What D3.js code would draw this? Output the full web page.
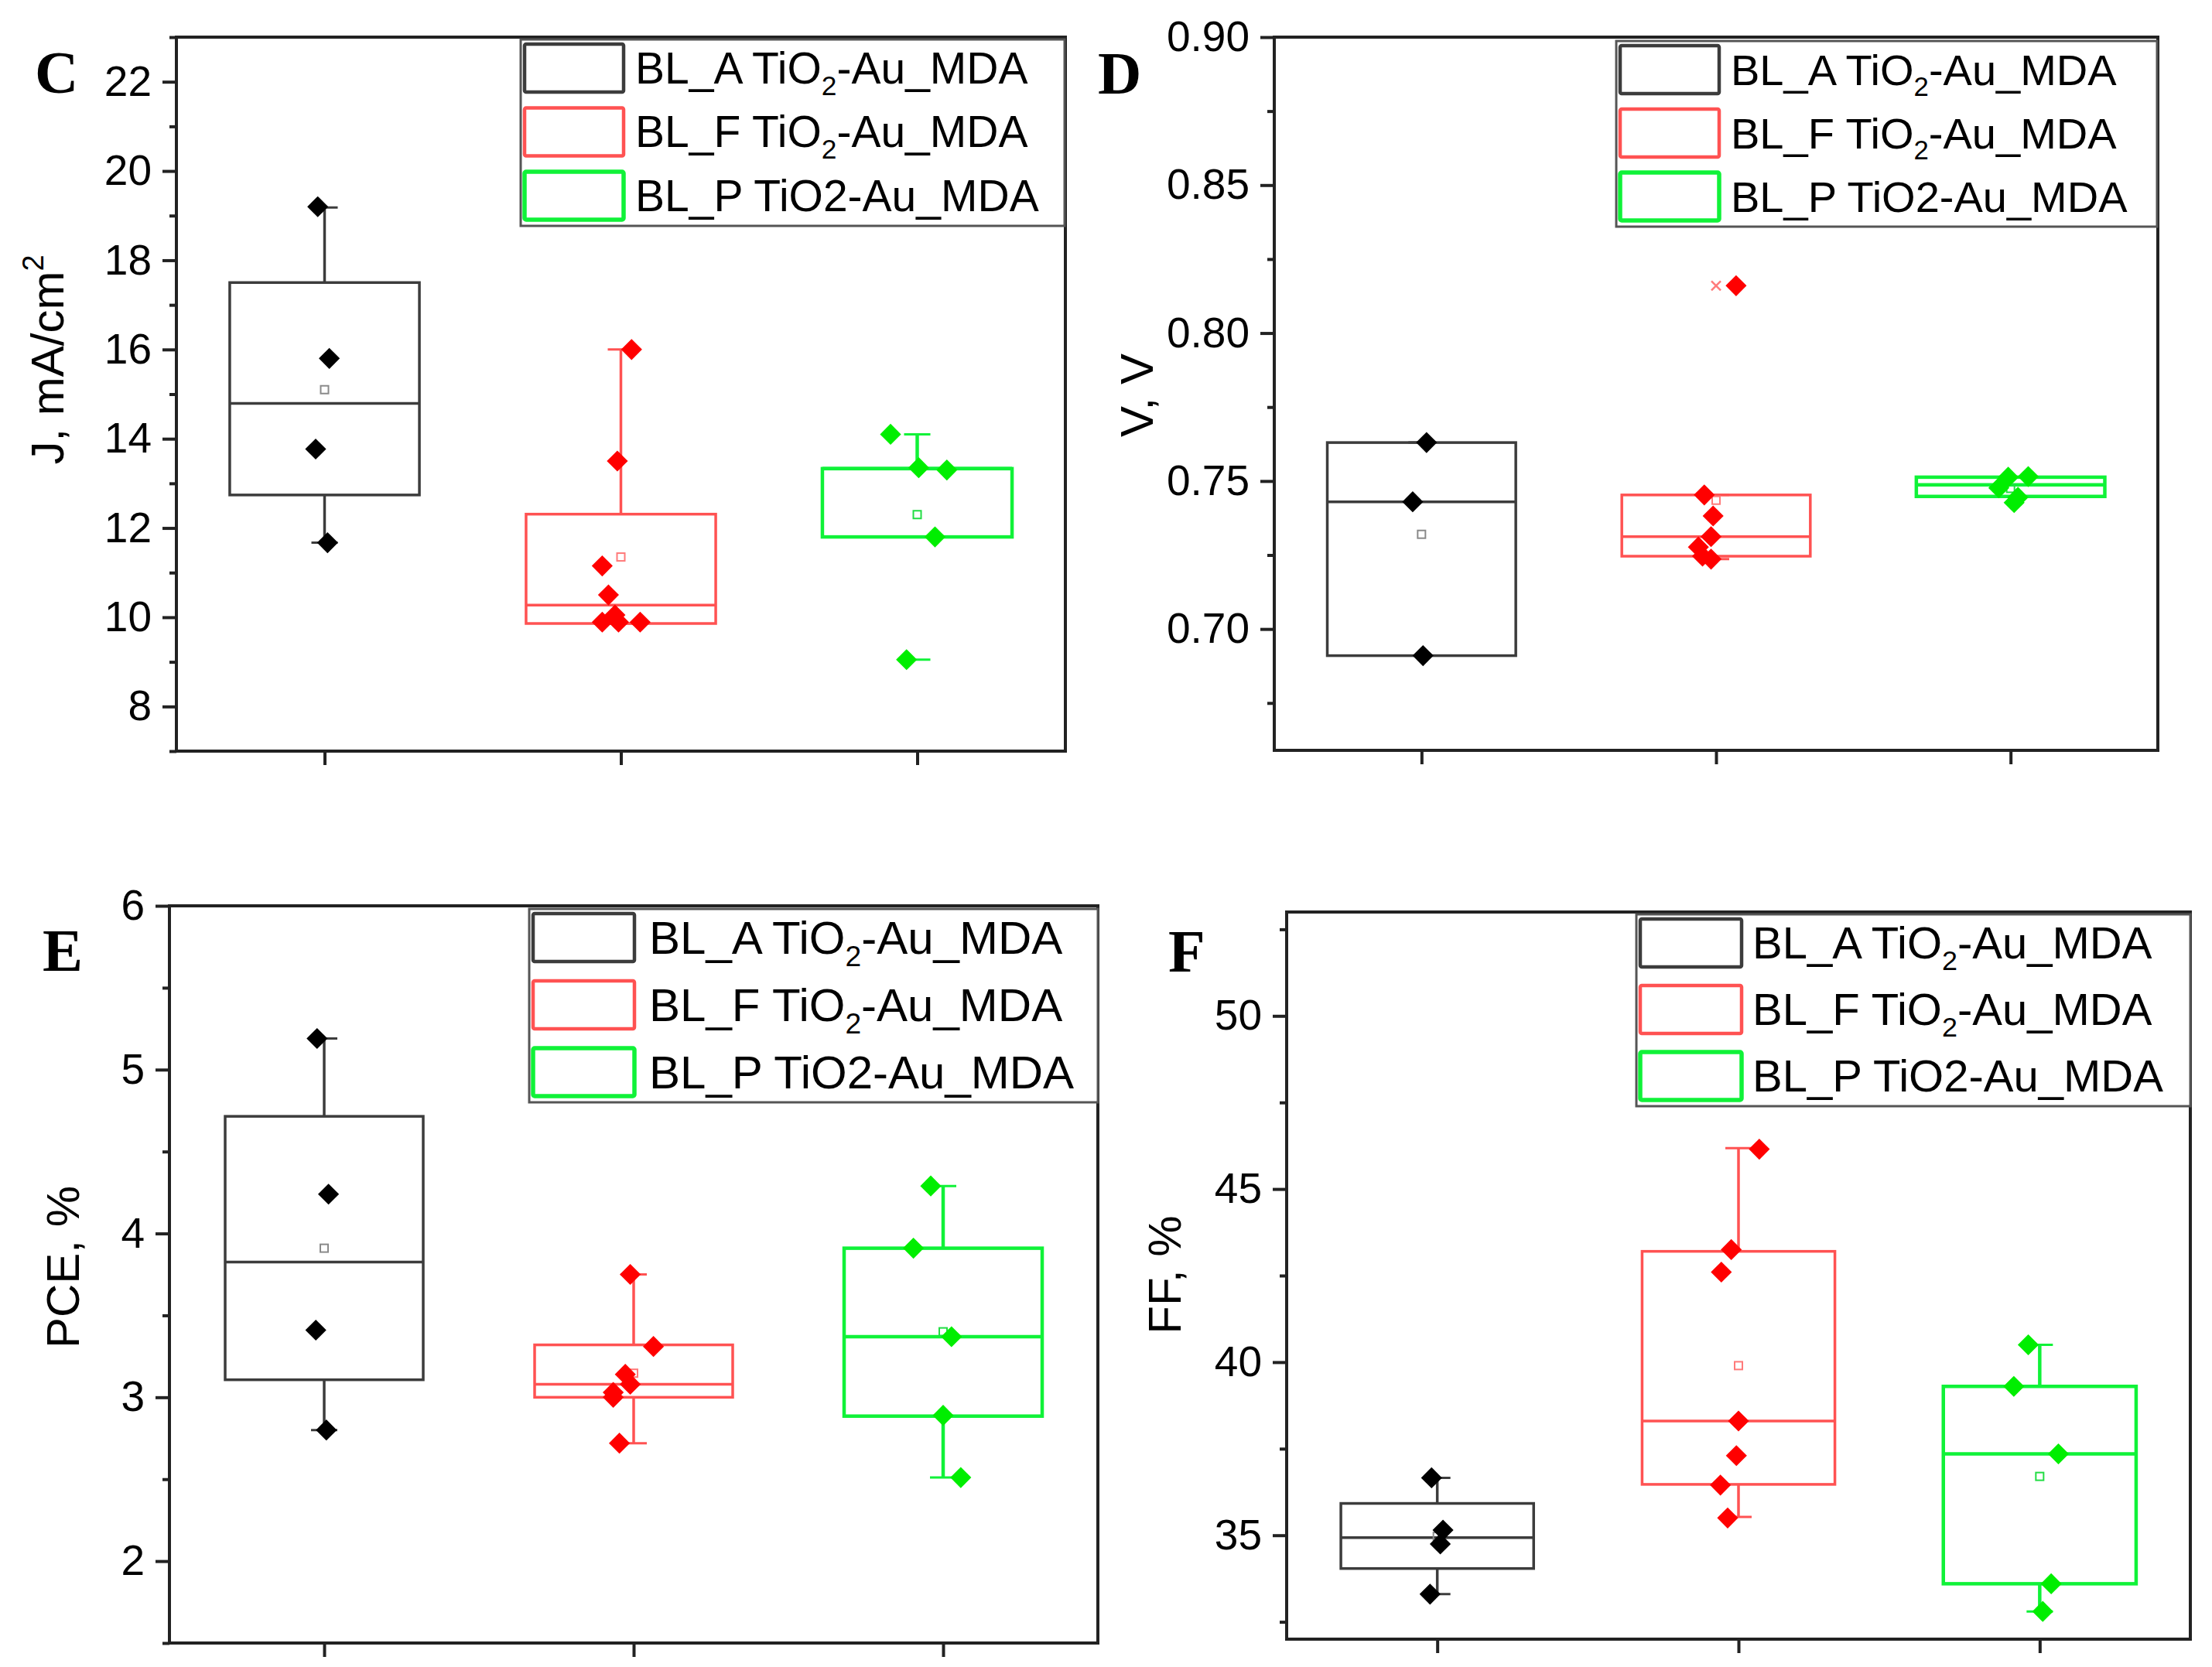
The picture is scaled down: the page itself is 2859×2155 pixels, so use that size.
<!DOCTYPE html>
<html>
<head>
<meta charset="utf-8">
<script src="https://cdn.jsdelivr.net/npm/d3@7"></script>
<style>
  body { margin: 0; background: #fff; }
  svg { display: block; }
  text { font-family: Arial, "Liberation Sans", sans-serif; fill: #000; }
</style>
</head>
<body>
<script>
const W = 2859, H = 2155;

// categories + legend text (middle part is the subscript)
const groups = ["BL_A", "BL_F", "BL_P"];
const legendParts = [["BL_A TiO", "2", "-Au_MDA"], ["BL_F TiO", "2", "-Au_MDA"], ["BL_P TiO2-Au_MDA"]];

// box stats per group: [q1, median, q3, whisker low, whisker high, mean]
// C: J, mA/cm2
const jPoints = [[19.2, 15.8, 13.77, 11.67], [16.0, 13.5, 11.15, 10.5, 10.05, 9.89, 9.89, 9.89], [14.1, 13.35, 13.3, 11.8, 9.05]];
const jJitter = [[-0.023, 0.016, -0.03, 0.01], [0.036, -0.012, -0.063, -0.042, -0.02, -0.063, -0.008, 0.065], [-0.09, 0.005, 0.1, 0.06, -0.036]];
const jStats = [[12.74, 14.79, 17.5, 11.67, 19.18, 15.1], [9.86, 10.27, 12.31, 9.86, 16.0, 11.35], [11.8, 13.33, 13.33, 11.8, 14.1, 12.3]];
const jOutliers = [[2, 9.05, "dash"]];
const jMajor = [8, 10, 12, 14, 16, 18, 20, 22];
const jMinor = [7, 9, 11, 13, 15, 17, 19, 21, 23];

// D: V, V
const vPoints = [[0.763, 0.743, 0.691], [0.816, 0.7453, 0.7382, 0.7312, 0.7277, 0.7246, 0.7236], [0.7513, 0.7515, 0.7477, 0.7445, 0.7427]];
const vJitter = [[0.017, -0.03, 0.005], [0.068, -0.04, -0.01, -0.017, -0.06, -0.046, -0.017], [-0.008, 0.06, -0.04, 0.025, 0.012]];
const vStats = [[0.691, 0.743, 0.763, 0.691, 0.763, 0.732], [0.7246, 0.7312, 0.7453, 0.7236, 0.7453, 0.7435], [0.7448, 0.7487, 0.7513, 0.7448, 0.7513, 0.7475]];
const vOutliers = [[1, 0.816, "x"]];
const vMajor = [0.70, 0.75, 0.80, 0.85, 0.90];
const vMinor = [0.675, 0.725, 0.775, 0.825, 0.875];

// E: PCE, %
const pcePoints = [[5.19, 4.24, 3.41, 2.8], [3.75, 3.31, 3.14, 3.08, 3.03, 3.0, 2.72], [4.29, 3.91, 3.37, 2.89, 2.51]];
const pceJitter = [[-0.023, 0.014, -0.027, 0.007], [-0.011, 0.064, -0.027, -0.011, -0.066, -0.066, -0.046], [-0.04, -0.096, 0.027, 0, 0.057]];
const pceStats = [[3.107, 3.825, 4.715, 2.8, 5.19, 3.91], [3.0, 3.08, 3.32, 2.72, 3.75, 3.147], [2.885, 3.37, 3.91, 2.51, 4.29, 3.40]];
const pceMajor = [2, 3, 4, 5, 6];
const pceMinor = [1.5, 2.5, 3.5, 4.5, 5.5];

// F: FF, %
const ffPoints = [[36.66, 35.15, 34.75, 33.3], [46.15, 43.25, 42.6, 38.3, 37.3, 36.45, 35.5], [40.5, 39.3, 37.35, 33.6, 32.8]];
const ffJitter = [[-0.019, 0.019, 0.01, -0.024], [0.069, -0.024, -0.057, 0, -0.007, -0.06, -0.036], [-0.038, -0.086, 0.062, 0.038, 0.01]];
const ffStats = [[34.04, 34.93, 35.92, 33.3, 36.66, 34.97], [36.47, 38.3, 43.2, 35.53, 46.18, 39.9], [33.6, 37.35, 39.3, 32.8, 40.5, 36.7]];
const ffMajor = [35, 40, 45, 50];
const ffMinor = [32.5, 37.5, 42.5, 47.5, 52.5];

// styles
const boxColors = ["#3c3c3c", "#ff5252", "#10f238"];
const boxWidths = [3.5, 3.5, 4.5];
const pointColors = ["#000000", "#ff0000", "#00ee00"];
const meanColors = ["#8a8a8a", "#ff7a7a", "#22dd44"];
const axisColor = "#222";

const svg = d3.select("body").append("svg")
  .attr("width", W).attr("height", H)
  .attr("viewBox", `0 0 ${W} ${H}`);
svg.append("rect").attr("width", W).attr("height", H).attr("fill", "#fff");

const panels = [
  { label: "C", labelPos: [45, 120], frame: [228, 48, 1377, 971], yDomain: [7, 23],
    points: jPoints, jitter: jJitter, stats: jStats, outliers: jOutliers,
    major: jMajor, minor: jMinor, fmt: d3.format("d"),
    title: ["J, mA/cm", "2"], titlePos: [82, 465],
    legend: { x: 673, y: 51, w: 703, h: 241, fs: 57, tx: 148, sw: 128 } },
  { label: "D", labelPos: [1419, 121], frame: [1647, 48, 2789, 970], yDomain: [0.659, 0.90],
    points: vPoints, jitter: vJitter, stats: vStats, outliers: vOutliers,
    major: vMajor, minor: vMinor, fmt: d3.format(".2f"),
    title: ["V, V"], titlePos: [1490, 511],
    legend: { x: 2089, y: 53, w: 699, h: 240, fs: 56, tx: 148, sw: 128 } },
  { label: "E", labelPos: [55, 1255], frame: [219, 1171, 1419, 2124], yDomain: [1.5, 6],
    points: pcePoints, jitter: pceJitter, stats: pceStats, outliers: [],
    major: pceMajor, minor: pceMinor, fmt: d3.format("d"),
    title: ["PCE, %"], titlePos: [102, 1638],
    legend: { x: 684, y: 1175, w: 735, h: 250, fs: 60, tx: 155, sw: 131 } },
  { label: "F", labelPos: [1510, 1256], frame: [1663, 1179, 2831, 2119], yDomain: [32, 53],
    points: ffPoints, jitter: ffJitter, stats: ffStats, outliers: [],
    major: ffMajor, minor: ffMinor, fmt: d3.format("d"),
    title: ["FF, %"], titlePos: [1526, 1648],
    legend: { x: 2115, y: 1182, w: 716, h: 248, fs: 58, tx: 150, sw: 131 } }
];

const diamond = d3.symbol().type(d3.symbolDiamond2 || d3.symbolSquare).size(470);

panels.forEach(drawPanel);

function drawPanel(p) {
  const [l, t, r, b] = p.frame;
  const g = svg.append("g");
  const x = d3.scaleLinear().domain([0.5, 3.5]).range([l, r]);
  const y = d3.scaleLinear().domain(p.yDomain).range([b, t]);
  const boxHalf = x(1.32) - x(1);
  const capHalf = 17;

  // y axis, major + minor ticks
  const yMajor = g.append("g").attr("transform", `translate(${l},0)`)
    .call(d3.axisLeft(y).tickValues(p.major).tickSize(18).tickPadding(14).tickFormat(p.fmt));
  const yMinor = g.append("g").attr("transform", `translate(${l},0)`)
    .call(d3.axisLeft(y).tickValues(p.minor).tickSize(9).tickFormat(""));
  const xAx = g.append("g").attr("transform", `translate(0,${b})`)
    .call(d3.axisBottom(x).tickValues([1, 2, 3]).tickSize(18).tickFormat(""));
  [yMajor, yMinor, xAx].forEach(a => {
    a.select(".domain").remove();
    a.selectAll("line").attr("stroke", axisColor).attr("stroke-width", 4);
  });
  yMajor.selectAll("text").attr("font-size", 55).attr("fill", "#000")
    .style("font-family", "Arial, 'Liberation Sans', sans-serif");

  // frame
  g.append("rect").attr("x", l).attr("y", t).attr("width", r - l).attr("height", b - t)
    .attr("fill", "none").attr("stroke", axisColor).attr("stroke-width", 4);

  // legend
  const lg = p.legend;
  const leg = g.append("g");
  leg.append("rect").attr("x", lg.x).attr("y", lg.y).attr("width", lg.w).attr("height", lg.h)
    .attr("fill", "#fff").attr("stroke", "#555").attr("stroke-width", 3);
  const pitch = (lg.h - 14 - 62) / 2;
  groups.forEach((gname, i) => {
    const ry = lg.y + 6 + i * pitch;
    leg.append("rect").attr("x", lg.x + 5).attr("y", ry).attr("width", lg.sw).attr("height", 62)
      .attr("rx", 2).attr("fill", "#fff").attr("stroke", boxColors[i]).attr("stroke-width", boxWidths[i] + 1);
    const txt = leg.append("text").attr("x", lg.x + lg.tx).attr("y", ry + 31 + lg.fs * 0.35)
      .attr("font-size", lg.fs);
    legendParts[i].forEach((part, k) => {
      const ts = txt.append("tspan").text(part);
      if (k === 1) ts.attr("font-size", lg.fs * 0.62).attr("dy", lg.fs * 0.26);
      if (k === 2) ts.attr("font-size", lg.fs).attr("dy", -lg.fs * 0.26);
    });
  });

  // boxes
  p.stats.forEach((s, i) => {
    const [q1, med, q3, lo, hi, mean] = s;
    const cx = x(i + 1);
    const bg = g.append("g").attr("stroke", boxColors[i]).attr("stroke-width", boxWidths[i]).attr("fill", "none");
    bg.append("line").attr("x1", cx).attr("x2", cx).attr("y1", y(q3)).attr("y2", y(hi));
    bg.append("line").attr("x1", cx).attr("x2", cx).attr("y1", y(q1)).attr("y2", y(lo));
    bg.append("rect").attr("x", cx - boxHalf).attr("y", y(q3)).attr("width", 2 * boxHalf)
      .attr("height", Math.max(0, y(q1) - y(q3)));
    bg.append("line").attr("x1", cx - boxHalf).attr("x2", cx + boxHalf).attr("y1", y(med)).attr("y2", y(med));
    [lo, hi].forEach(v => {
      bg.append("line").attr("x1", cx - capHalf).attr("x2", cx + capHalf).attr("y1", y(v)).attr("y2", y(v))
        .attr("stroke-width", 3);
    });
    bg.append("rect").attr("x", cx - 5).attr("y", y(mean) - 5).attr("width", 10).attr("height", 10)
      .attr("stroke", meanColors[i]).attr("stroke-width", 2);
  });

  // outlier markers (min/max beyond whiskers)
  p.outliers.forEach(([i, v, kind]) => {
    const cx = x(i + 1), cy = y(v);
    const o = g.append("g").attr("stroke", meanColors[i]).attr("stroke-width", 2.5);
    if (kind === "x") {
      o.append("line").attr("x1", cx - 6).attr("x2", cx + 6).attr("y1", cy - 6).attr("y2", cy + 6);
      o.append("line").attr("x1", cx - 6).attr("x2", cx + 6).attr("y1", cy + 6).attr("y2", cy - 6);
    } else {
      o.attr("stroke", boxColors[i]).attr("stroke-width", 3);
      o.append("line").attr("x1", cx - capHalf).attr("x2", cx + capHalf).attr("y1", cy).attr("y2", cy);
    }
  });

  // data points
  p.points.forEach((vals, i) => {
    g.append("g").selectAll("path").data(vals).join("path")
      .attr("d", diamond)
      .attr("transform", (v, k) => `translate(${x(i + 1 + p.jitter[i][k])},${y(v)})`)
      .attr("fill", pointColors[i]);
  });

  // axis title
  const [tx, ty] = p.titlePos;
  const title = g.append("text").attr("transform", `translate(${tx},${ty}) rotate(-90)`)
    .attr("text-anchor", "middle").attr("font-size", 60);
  title.append("tspan").text(p.title[0]);
  if (p.title[1]) title.append("tspan").attr("font-size", 38).attr("dy", -26).text(p.title[1]);

  // panel letter
  g.append("text").attr("x", p.labelPos[0]).attr("y", p.labelPos[1])
    .attr("font-size", 78).attr("font-weight", "bold")
    .style("font-family", "'Liberation Serif', 'Times New Roman', serif")
    .text(p.label);
}
</script>
</body>
</html>
